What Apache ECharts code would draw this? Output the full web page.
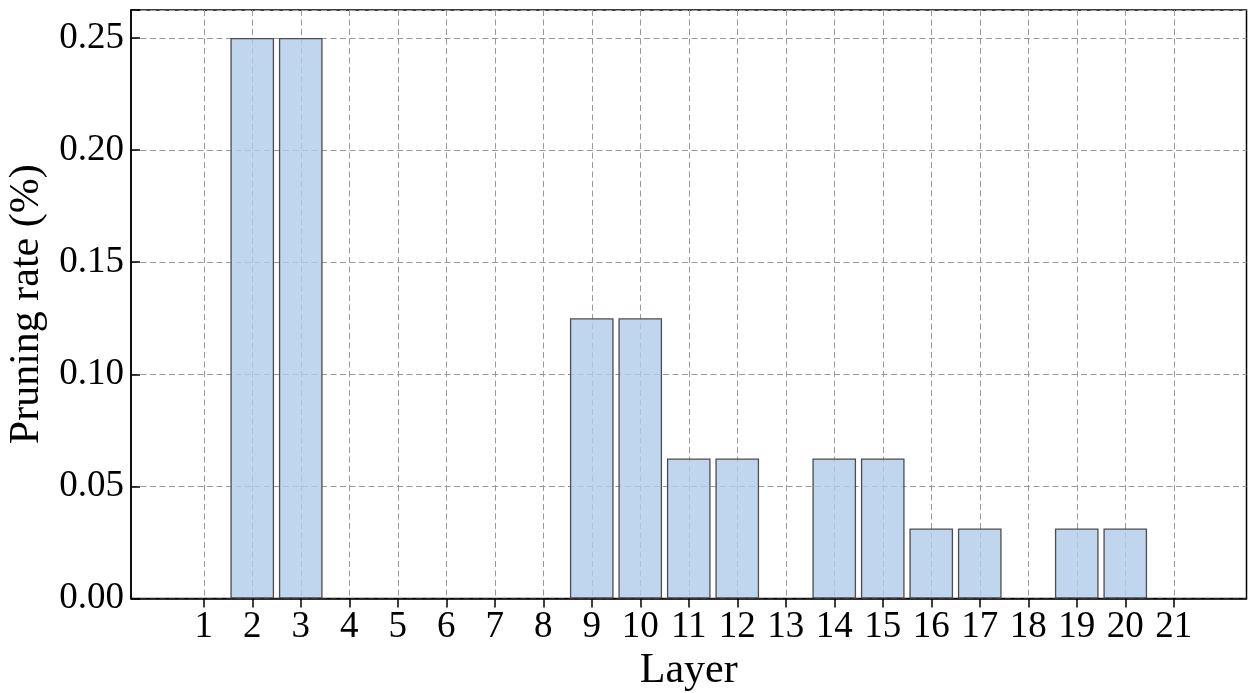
<!DOCTYPE html>
<html>
<head>
<meta charset="utf-8">
<script src="https://cdn.jsdelivr.net/npm/echarts@6/dist/echarts.min.js"></script>
<style>html,body{margin:0;padding:0;background:#fff}#c{width:1248px;height:693px}</style>
</head>
<body>
<div id="c"></div>
<script>
const layers = ['1','2','3','4','5','6','7','8','9','10','11','12','13','14','15','16','17','18','19','20','21'];
const rates = [0, 0.25, 0.25, 0, 0, 0, 0, 0, 0.125, 0.125, 0.0625, 0.0625, 0, 0.0625, 0.0625, 0.03125, 0.03125, 0, 0.03125, 0.03125, 0];
const yTicks = [0, 0.05, 0.10, 0.15, 0.20, 0.25];

const cats = [''].concat(layers, ['']);
const vals = [null].concat(rates.map(v => v === 0 ? null : v), [null]);
const FONT = 'Liberation Serif';
const FS = 37;
const FT = 42;
const isLabel = (i, v) => v !== '';

const chart = echarts.init(document.getElementById('c'), null, {renderer: 'canvas'});
chart.setOption({
  animation: false,
  backgroundColor: '#fff',
  grid: {left: 131, right: 1.5, top: 10, bottom: 94.5, containLabel: false, outerBoundsMode: 'none',
    show: true, borderColor: '#000', borderWidth: 1.5, backgroundColor: 'transparent'},
  xAxis: {
    type: 'category',
    data: cats,
    boundaryGap: true,
    name: 'Layer',
    nameLocation: 'middle',
    nameGap: 50,
    nameTextStyle: {fontFamily: FONT, fontSize: FT, color: '#000'},
    axisLine: {lineStyle: {color: '#000', width: 1.5}},
    axisTick: {show: true, alignWithLabel: true, interval: isLabel, length: 9, inside: false, lineStyle: {color: '#000', width: 1.5}},
    axisLabel: {interval: isLabel, margin: 10, fontFamily: FONT, fontSize: FS, color: '#000'},
    splitLine: {show: true, alignWithLabel: true, interval: isLabel, lineStyle: {color: '#9a9a9a', type: [6, 3.5], width: 1}}
  },
  yAxis: {
    type: 'value',
    min: 0,
    max: 0.2625,
    interval: 0.05,
    name: 'Pruning rate (%)',
    nameLocation: 'middle',
    nameGap: 80,
    nameTextStyle: {fontFamily: FONT, fontSize: FT, color: '#000'},
    axisLine: {show: true, lineStyle: {color: '#000', width: 1.5}},
    axisTick: {show: true, inside: true, length: 9, lineStyle: {color: '#000', width: 1.5}},
    axisLabel: {margin: 7, fontFamily: FONT, fontSize: FS, color: '#000',
      formatter: v => yTicks.some(t => Math.abs(t - v) < 1e-9) ? v.toFixed(2) : ''},
    splitLine: {show: true, lineStyle: {color: '#9a9a9a', type: [6, 3.5], width: 1}}
  },
  series: [{
    type: 'bar',
    data: vals,
    barWidth: '90%',
    itemStyle: {color: 'rgba(176,202,234,0.8)', borderColor: '#4d4d4d', borderWidth: 1.3}
  }]
});
</script>
</body>
</html>
